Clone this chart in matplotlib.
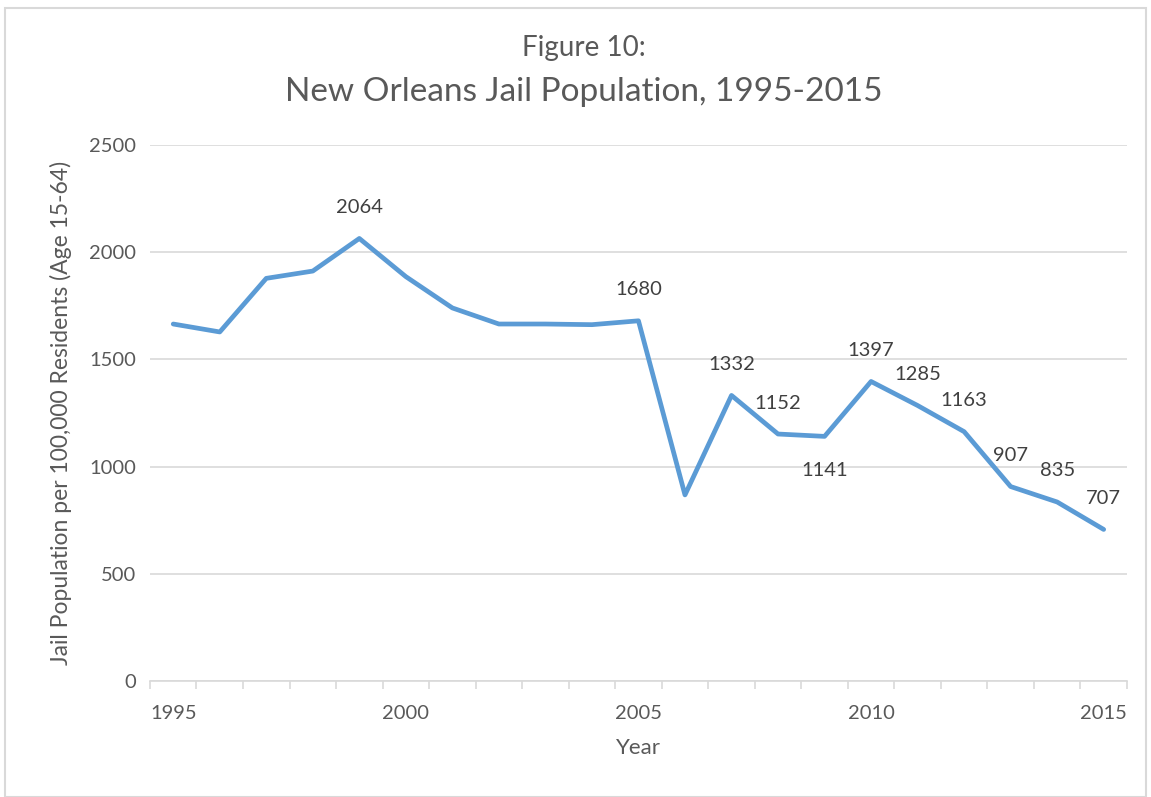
import matplotlib.pyplot as plt
import matplotlib.patches as mpatches
import numpy as np

years = list(range(1995, 2016))
jail_rate = [1665, 1628, 1878, 1912, 2064, 1886, 1740, 1665, 1665, 1662, 1680,
             868, 1332, 1152, 1141, 1397, 1285, 1163, 907, 835, 707]
labelled_years = [1999, 2005, 2007, 2008, 2009, 2010, 2011, 2012, 2013, 2014, 2015]
below_years = [2009]
tick_years = [1995, 2000, 2005, 2010, 2015]

grey = '#595959'
blue = '#5B9BD5'
plt.rcParams['font.family'] = ['Lato', 'DejaVu Sans']

fig = plt.figure(figsize=(11.51, 7.97), dpi=100)
ax = fig.add_axes([0.1303, 0.1455, 0.8488, 0.6726])

fig.patches.append(mpatches.Rectangle((5 / 1151, 0), 1 - 10 / 1151, 1 - 8 / 797,
                                      transform=fig.transFigure, fill=False,
                                      edgecolor='#D9D9D9', linewidth=1.5))

ax.plot(years, jail_rate, color=blue, linewidth=3.4, solid_capstyle='round',
        solid_joinstyle='round', zorder=3)

for yr, val in zip(years, jail_rate):
    if yr in labelled_years:
        dy = -34 if yr in below_years else 31
        ax.annotate(str(val), (yr, val), xytext=(0, dy * 0.72), textcoords='offset points',
                    ha='center', va='center', fontsize=14.5, color='#404040')

ax.set_xlim(1994.5, 2015.5)
ax.set_ylim(0, 2500)
ax.set_yticks(np.arange(0, 2501, 500))
ax.set_xticks(tick_years)
ax.set_xticks(np.arange(1994.5, 2016, 1), minor=True)
ax.tick_params(axis='x', which='major', length=0, pad=17, labelsize=14.5, labelcolor=grey)
ax.tick_params(axis='x', which='minor', length=6, color='#D9D9D9', width=1.2)
ax.tick_params(axis='y', length=0, pad=10, labelsize=14.5, labelcolor=grey)
ax.grid(axis='y', color='#D9D9D9', linewidth=1.2)
ax.set_axisbelow(True)
for s in ['top', 'right', 'left']:
    ax.spines[s].set_visible(False)
ax.spines['bottom'].set_color('#D9D9D9')
ax.spines['bottom'].set_linewidth(1.2)

ax.set_xlabel('Year', fontsize=16, color=grey, labelpad=12)
ax.set_ylabel('Jail Population per 100,000 Residents (Age 15-64)', fontsize=16.5,
              color=grey, labelpad=12)

fig.text(0.507, 1 - 48 / 797, 'Figure 10:', ha='center', va='center',
         fontsize=20, color=grey)
fig.text(0.507, 1 - 92 / 797, 'New Orleans Jail Population, 1995-2015',
         ha='center', va='center', fontsize=24, color=grey)

fig.savefig('out.png', dpi=100)
